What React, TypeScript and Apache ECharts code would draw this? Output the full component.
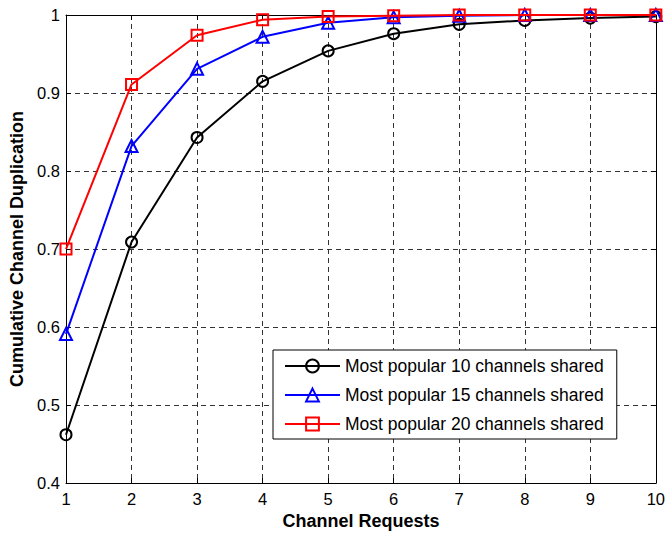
import React, { useEffect, useRef } from "react";
import * as echarts from "echarts";

const requests = [1, 2, 3, 4, 5, 6, 7, 8, 9, 10];
const top10 = [0.462, 0.709, 0.843, 0.915, 0.954, 0.976, 0.988, 0.993, 0.996, 0.998];
const top15 = [0.591, 0.832, 0.931, 0.972, 0.990, 0.997, 0.999, 1.0, 1.0, 1.0];
const top20 = [0.7, 0.911, 0.974, 0.994, 0.998, 0.999, 1.0, 1.0, 1.0, 1.0];
const seriesNames = [
  "Most popular 10 channels shared",
  "Most popular 15 channels shared",
  "Most popular 20 channels shared",
];
const seriesColors = ["#000000", "#0000ff", "#ff0000"];
const seriesSymbols = ["circle", "triangle", "rect"];
const seriesSizes = [11, 12, 11];
const seriesData = [top10, top15, top20];

const FONT = "'Liberation Sans', Arial, Helvetica, sans-serif";

export default function App() {
  const ref = useRef<HTMLDivElement>(null);
  useEffect(() => {
    if (!ref.current) return;
    const chart = echarts.init(ref.current, undefined, { renderer: "svg" });
    const grid = { left: 64, right: 9, top: 15, bottom: 48 };
    const gridLine = { show: true, lineStyle: { color: "#333", type: [5, 4] as any, width: 1 } };
    const axisLine = { show: true, onZero: false, lineStyle: { color: "#000", width: 1 } };
    const tick = { show: true, inside: true, length: 5, lineStyle: { color: "#000" } };
    chart.setOption({
      animation: false,
      textStyle: { fontFamily: FONT },
      grid,
      legend: {
        orient: "vertical",
        left: 273,
        top: 350,
        itemWidth: 55,
        itemHeight: 16,
        itemGap: 11,
        padding: [7, 13, 6, 11],
        borderColor: "#000",
        borderWidth: 1,
        backgroundColor: "#fff",
        textStyle: { fontSize: 17.5, color: "#000", fontFamily: FONT },
        data: seriesNames,
      },
      xAxis: [
        {
          type: "value",
          min: 1,
          max: 10,
          interval: 1,
          name: "Channel Requests",
          nameLocation: "middle",
          nameGap: 27,
          nameTextStyle: { fontSize: 18, fontWeight: "bold", color: "#000", fontFamily: FONT },
          axisLine,
          axisTick: tick,
          axisLabel: { color: "#000", fontSize: 16.5, margin: 7, fontFamily: FONT },
          splitLine: gridLine,
        },
        {
          type: "value",
          position: "top",
          min: 1,
          max: 10,
          interval: 1,
          axisLine,
          axisTick: tick,
          axisLabel: { show: false },
          splitLine: { show: false },
        },
      ],
      yAxis: [
        {
          type: "value",
          min: 0.4,
          max: 1,
          interval: 0.1,
          name: "Cumulative Channel Duplication",
          nameLocation: "middle",
          nameGap: 40,
          nameTextStyle: { fontSize: 18, fontWeight: "bold", color: "#000", fontFamily: FONT },
          axisLine,
          axisTick: tick,
          axisLabel: {
            color: "#000",
            fontSize: 16.5,
            margin: 6,
            fontFamily: FONT,
            formatter: (v: number) => String(+v.toFixed(1)),
          },
          splitLine: gridLine,
        },
        {
          type: "value",
          position: "right",
          min: 0.4,
          max: 1,
          interval: 0.1,
          axisLine,
          axisTick: tick,
          axisLabel: { show: false },
          splitLine: { show: false },
        },
      ],
      series: seriesData.map((d, i) => ({
        name: seriesNames[i],
        type: "line",
        data: requests.map((x, j) => [x, d[j]]),
        symbol: seriesSymbols[i],
        symbolSize: seriesSizes[i],
        showAllSymbol: true,
        z: 3 + i,
        lineStyle: { color: seriesColors[i], width: 2 },
        itemStyle: {
          color: "rgba(255,255,255,0)",
          borderColor: seriesColors[i],
          borderWidth: 2,
        },
      })),
    });
    return () => chart.dispose();
  }, []);
  return <div ref={ref} style={{ width: 668, height: 535, position: "absolute", left: 0, top: 0 }} />;
}
